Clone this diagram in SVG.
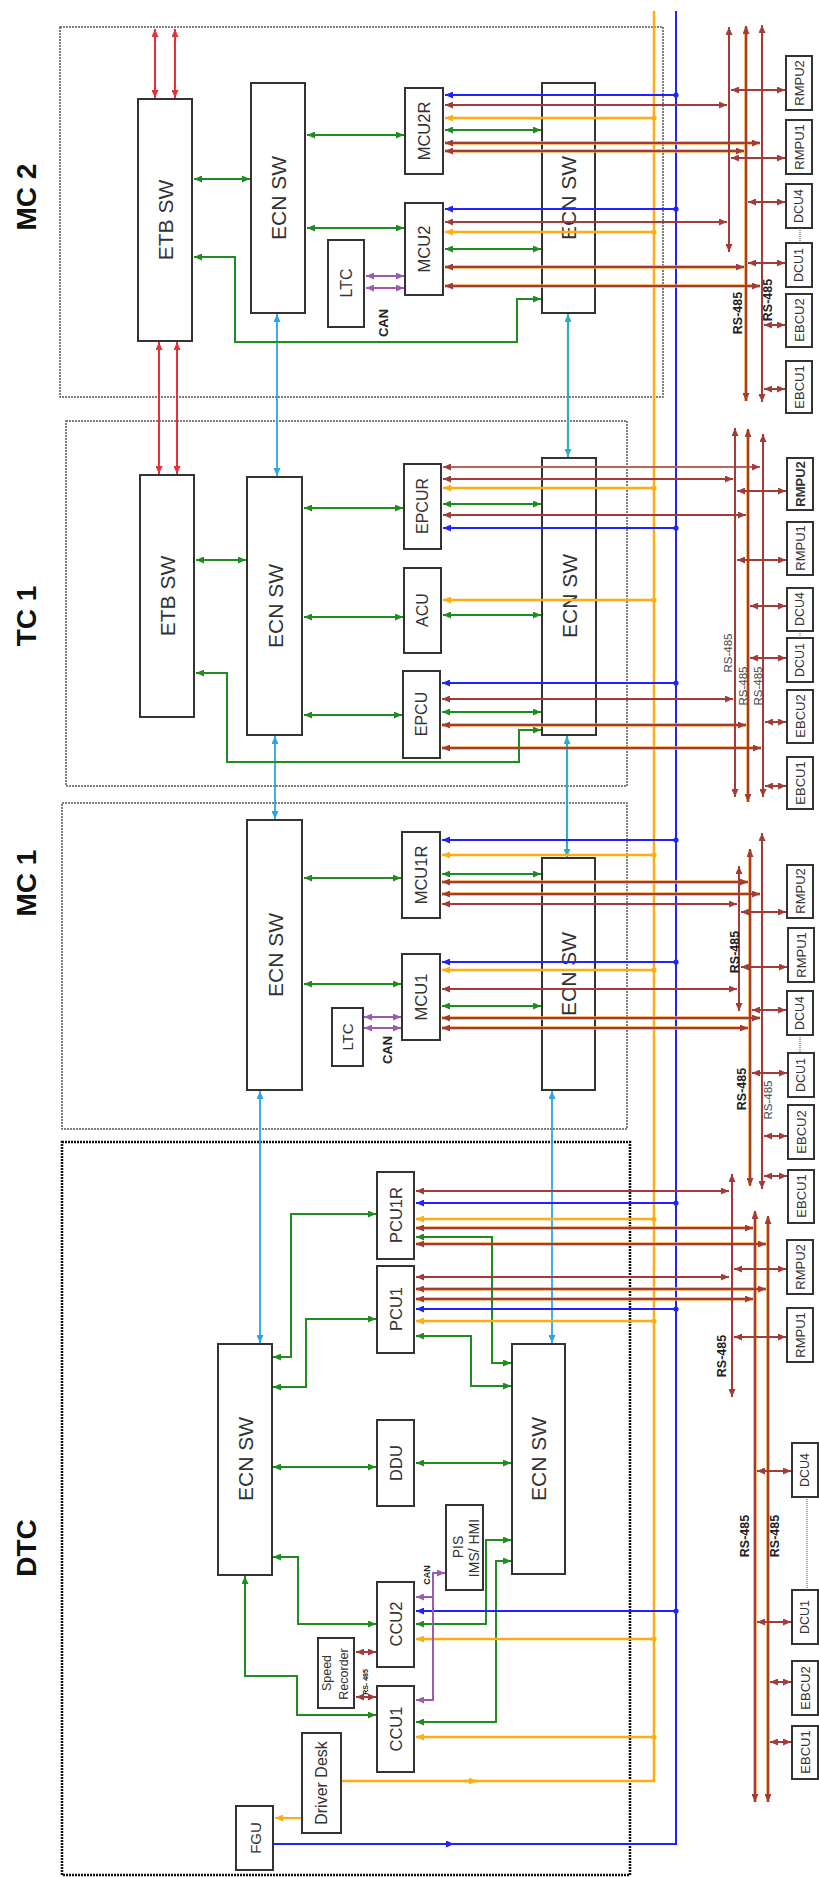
<svg xmlns="http://www.w3.org/2000/svg" width="819" height="1877" viewBox="0 0 819 1877">
<style>
.bg{fill:#fff}
.area{fill:none;stroke:#555;stroke-width:1.5;stroke-dasharray:2 1}
.areab{fill:none;stroke:#111;stroke-width:2.5;stroke-dasharray:2 1}
.bx{fill:#fff;stroke:#333;stroke-width:2}
.bxn{fill:none;stroke:#333;stroke-width:2}
.t{font-family:"Liberation Sans",Arial,sans-serif;fill:#333;text-anchor:middle;dominant-baseline:central}
.title{font-family:"Liberation Sans",Arial,sans-serif;font-weight:bold;fill:#111;text-anchor:middle;dominant-baseline:central;font-size:28px}
.lb{font-family:"Liberation Sans",Arial,sans-serif;font-weight:bold;fill:#222;text-anchor:middle;dominant-baseline:central}
.lr{font-family:"Liberation Sans",Arial,sans-serif;fill:#444;text-anchor:middle;dominant-baseline:central}
.br{fill:none;stroke:#a33b38;stroke-width:2;marker-start:url(#aBr);marker-end:url(#aBr)}
.brl{fill:none;stroke:#b8645f;stroke-width:2;marker-start:url(#aBr);marker-end:url(#aBr)}
.obu{fill:none;stroke:#f0aa48;stroke-width:3.6}
.g{fill:none;stroke:#1e8c1e;stroke-width:2;marker-start:url(#aG);marker-end:url(#aG)}
.bl{fill:none;stroke:#2222ff;stroke-width:2;marker-start:url(#aBl);marker-end:url(#dBl)}
.y{fill:none;stroke:#ffad10;stroke-width:2.5;marker-start:url(#aY);marker-end:url(#dY)}
.p{fill:none;stroke:#9a5bb0;stroke-width:2;marker-start:url(#aP);marker-end:url(#aP)}
.c{fill:none;stroke:#2aa7e0;stroke-width:1.8;marker-start:url(#aC);marker-end:url(#aC)}
.ct{fill:none;stroke:#2eaec4;stroke-width:2.2;marker-start:url(#aCt);marker-end:url(#aCt)}
.r{fill:none;stroke:#e8303a;stroke-width:2;marker-start:url(#aR);marker-end:url(#aR)}
.dot{fill:none;stroke:#444;stroke-width:1;stroke-dasharray:1 1}
</style>
<defs>
<marker id="aBr" viewBox="0 0 8 7" refX="8" refY="3.5" markerWidth="8" markerHeight="7" markerUnits="userSpaceOnUse" orient="auto-start-reverse"><path d="M0,0L8,3.5L0,7z" fill="#a33b38"/></marker>
<marker id="aG" viewBox="0 0 8 7" refX="8" refY="3.5" markerWidth="8" markerHeight="7" markerUnits="userSpaceOnUse" orient="auto-start-reverse"><path d="M0,0L8,3.5L0,7z" fill="#1e8c1e"/></marker>
<marker id="aBl" viewBox="0 0 8 7" refX="8" refY="3.5" markerWidth="8" markerHeight="7" markerUnits="userSpaceOnUse" orient="auto-start-reverse"><path d="M0,0L8,3.5L0,7z" fill="#2222ff"/></marker>
<marker id="aY" viewBox="0 0 8 7" refX="8" refY="3.5" markerWidth="8" markerHeight="7" markerUnits="userSpaceOnUse" orient="auto-start-reverse"><path d="M0,0L8,3.5L0,7z" fill="#ffad10"/></marker>
<marker id="aP" viewBox="0 0 8 7" refX="8" refY="3.5" markerWidth="8" markerHeight="7" markerUnits="userSpaceOnUse" orient="auto-start-reverse"><path d="M0,0L8,3.5L0,7z" fill="#9a5bb0"/></marker>
<marker id="aC" viewBox="0 0 8 7" refX="8" refY="3.5" markerWidth="8" markerHeight="7" markerUnits="userSpaceOnUse" orient="auto-start-reverse"><path d="M0,0L8,3.5L0,7z" fill="#2aa7e0"/></marker>
<marker id="aCt" viewBox="0 0 8 7" refX="8" refY="3.5" markerWidth="8" markerHeight="7" markerUnits="userSpaceOnUse" orient="auto-start-reverse"><path d="M0,0L8,3.5L0,7z" fill="#2eaec4"/></marker>
<marker id="aR" viewBox="0 0 8 7" refX="8" refY="3.5" markerWidth="8" markerHeight="7" markerUnits="userSpaceOnUse" orient="auto-start-reverse"><path d="M0,0L8,3.5L0,7z" fill="#e8303a"/></marker>
<marker id="dBl" viewBox="0 0 6 6" refX="3" refY="3" markerWidth="6" markerHeight="6" markerUnits="userSpaceOnUse"><circle cx="3" cy="3" r="2.6" fill="#2222ff"/></marker>
<marker id="dY" viewBox="0 0 6 6" refX="3" refY="3" markerWidth="6" markerHeight="6" markerUnits="userSpaceOnUse"><circle cx="3" cy="3" r="2.6" fill="#ffad10"/></marker>
</defs>
<rect class="bg" x="0" y="0" width="819" height="1877"/>

<g id="areas">
<rect class="area" x="60" y="27" width="603" height="370"/>
<rect class="area" x="66" y="421" width="561" height="365"/>
<rect class="area" x="62" y="803" width="565" height="326"/>
<rect class="areab" x="62" y="1142" width="568" height="733"/>
<text class="title" transform="translate(26,197) rotate(-90)">MC 2</text>
<text class="title" transform="translate(26,616) rotate(-90)">TC 1</text>
<text class="title" transform="translate(26,883) rotate(-90)">MC 1</text>
<text class="title" transform="translate(26,1548) rotate(-90)">DTC</text>
</g>

<!-- MC2 nodes -->
<g id="mc2-etb"><rect class="bx" x="138" y="99" width="54" height="242"/><text class="t" font-size="21" transform="translate(165,220) rotate(-90)">ETB SW</text></g>
<g id="mc2-ecn1"><rect class="bx" x="251" y="83" width="54" height="230"/><text class="t" font-size="21" transform="translate(278,198) rotate(-90)">ECN SW</text></g>
<g id="mc2-mcu2r"><rect class="bx" x="405" y="88" width="38" height="86"/><text class="t" font-size="16.5" transform="translate(424,131) rotate(-90)">MCU2R</text></g>
<g id="mc2-mcu2"><rect class="bx" x="405" y="203" width="38" height="92"/><text class="t" font-size="16.5" transform="translate(424,249) rotate(-90)">MCU2</text></g>
<g id="mc2-ltc"><rect class="bx" x="328" y="240" width="36" height="87"/><text class="t" font-size="16" transform="translate(346,283) rotate(-90)">LTC</text></g>
<g id="mc2-ecn2"><rect class="bxn" x="542" y="83" width="53" height="230"/><text class="t" font-size="21" transform="translate(568,198) rotate(-90)">ECN SW</text></g>
<g id="mc2-rmpu2"><rect class="bx" x="786" y="56" width="26" height="54"/><text class="t" font-size="13" transform="translate(799,83) rotate(-90)">RMPU2</text></g>
<g id="mc2-rmpu1"><rect class="bx" x="786" y="120" width="26" height="54"/><text class="t" font-size="13" transform="translate(799,147) rotate(-90)">RMPU1</text></g>
<g id="mc2-dcu4"><rect class="bx" x="786" y="184" width="26" height="44"/><text class="t" font-size="12.5" transform="translate(799,206) rotate(-90)">DCU4</text></g>
<g id="mc2-dcu1"><rect class="bx" x="786" y="243" width="26" height="44"/><text class="t" font-size="12.5" transform="translate(799,265) rotate(-90)">DCU1</text></g>
<g id="mc2-ebcu2"><rect class="bx" x="786" y="294" width="26" height="53"/><text class="t" font-size="13" transform="translate(799,320) rotate(-90)">EBCU2</text></g>
<g id="mc2-ebcu1"><rect class="bx" x="786" y="361" width="26" height="52"/><text class="t" font-size="13" transform="translate(799,387) rotate(-90)">EBCU1</text></g>

<!-- TC1 nodes -->
<g id="tc1-etb"><rect class="bx" x="140" y="475" width="54" height="242"/><text class="t" font-size="21" transform="translate(167,596) rotate(-90)">ETB SW</text></g>
<g id="tc1-ecn1"><rect class="bx" x="247" y="477" width="55" height="258"/><text class="t" font-size="21" transform="translate(275,606) rotate(-90)">ECN SW</text></g>
<g id="tc1-epcur"><rect class="bx" x="404" y="464" width="37" height="85"/><text class="t" font-size="16" transform="translate(422,506) rotate(-90)">EPCUR</text></g>
<g id="tc1-acu"><rect class="bx" x="404" y="568" width="37" height="85"/><text class="t" font-size="16" transform="translate(422,610) rotate(-90)">ACU</text></g>
<g id="tc1-epcu"><rect class="bx" x="403" y="671" width="37" height="87"/><text class="t" font-size="16" transform="translate(421,714) rotate(-90)">EPCU</text></g>
<g id="tc1-ecn2"><rect class="bxn" x="542" y="458" width="54" height="277"/><text class="t" font-size="21" transform="translate(569,596) rotate(-90)">ECN SW</text></g>
<g id="tc1-rmpu2"><rect class="bx" x="787" y="458" width="26" height="52"/><text class="t" font-size="13" font-weight="bold" fill="#111" transform="translate(800,484) rotate(-90)">RMPU2</text></g>
<g id="tc1-rmpu1"><rect class="bx" x="787" y="522" width="26" height="53"/><text class="t" font-size="13" transform="translate(800,548) rotate(-90)">RMPU1</text></g>
<g id="tc1-dcu4"><rect class="bx" x="787" y="588" width="26" height="43"/><text class="t" font-size="12.5" transform="translate(800,609) rotate(-90)">DCU4</text></g>
<g id="tc1-dcu1"><rect class="bx" x="787" y="638" width="26" height="44"/><text class="t" font-size="12.5" transform="translate(800,660) rotate(-90)">DCU1</text></g>
<g id="tc1-ebcu2"><rect class="bx" x="787" y="690" width="26" height="53"/><text class="t" font-size="13" transform="translate(800,716) rotate(-90)">EBCU2</text></g>
<g id="tc1-ebcu1"><rect class="bx" x="787" y="757" width="26" height="52"/><text class="t" font-size="13" transform="translate(800,783) rotate(-90)">EBCU1</text></g>

<!-- MC1 nodes -->
<g id="mc1-ecn1"><rect class="bx" x="247" y="820" width="55" height="270"/><text class="t" font-size="21" transform="translate(275,955) rotate(-90)">ECN SW</text></g>
<g id="mc1-mcu1r"><rect class="bx" x="402" y="832" width="38" height="86"/><text class="t" font-size="16.5" transform="translate(421,875) rotate(-90)">MCU1R</text></g>
<g id="mc1-mcu1"><rect class="bx" x="402" y="954" width="38" height="86"/><text class="t" font-size="16.5" transform="translate(421,997) rotate(-90)">MCU1</text></g>
<g id="mc1-ltc"><rect class="bx" x="332" y="1008" width="31" height="58"/><text class="t" font-size="15" transform="translate(347,1037) rotate(-90)">LTC</text></g>
<g id="mc1-ecn2"><rect class="bxn" x="542" y="858" width="53" height="232"/><text class="t" font-size="21" transform="translate(568,974) rotate(-90)">ECN SW</text></g>
<g id="mc1-rmpu2"><rect class="bx" x="787" y="865" width="26" height="53"/><text class="t" font-size="13" transform="translate(800,891) rotate(-90)">RMPU2</text></g>
<g id="mc1-rmpu1"><rect class="bx" x="788" y="928" width="26" height="54"/><text class="t" font-size="13" transform="translate(801,955) rotate(-90)">RMPU1</text></g>
<g id="mc1-dcu4"><rect class="bx" x="787" y="991" width="26" height="44"/><text class="t" font-size="12.5" transform="translate(800,1013) rotate(-90)">DCU4</text></g>
<g id="mc1-dcu1"><rect class="bx" x="788" y="1053" width="26" height="44"/><text class="t" font-size="12.5" transform="translate(801,1075) rotate(-90)">DCU1</text></g>
<g id="mc1-ebcu2"><rect class="bx" x="788" y="1105" width="26" height="54"/><text class="t" font-size="13" transform="translate(801,1132) rotate(-90)">EBCU2</text></g>
<g id="mc1-ebcu1"><rect class="bx" x="788" y="1170" width="26" height="53"/><text class="t" font-size="13" transform="translate(801,1196) rotate(-90)">EBCU1</text></g>

<!-- DTC nodes -->
<g id="dtc-ecn1"><rect class="bx" x="218" y="1344" width="54" height="231"/><text class="t" font-size="21" transform="translate(245,1459) rotate(-90)">ECN SW</text></g>
<g id="dtc-ecn2"><rect class="bx" x="512" y="1344" width="53" height="230"/><text class="t" font-size="21" transform="translate(538,1459) rotate(-90)">ECN SW</text></g>
<g id="dtc-pcu1r"><rect class="bx" x="377" y="1172" width="37" height="87"/><text class="t" font-size="16.5" transform="translate(396,1215) rotate(-90)">PCU1R</text></g>
<g id="dtc-pcu1"><rect class="bx" x="377" y="1266" width="37" height="87"/><text class="t" font-size="16.5" transform="translate(396,1309) rotate(-90)">PCU1</text></g>
<g id="dtc-ddu"><rect class="bx" x="377" y="1420" width="37" height="86"/><text class="t" font-size="16.5" transform="translate(396,1463) rotate(-90)">DDU</text></g>
<g id="dtc-pis"><rect class="bx" x="446" y="1505" width="37" height="85"/><text class="t" font-size="14" transform="translate(458,1547) rotate(-90)">PIS</text><text class="t" font-size="14" transform="translate(474,1548) rotate(-90)">IMS/ HMI</text></g>
<g id="dtc-ccu2"><rect class="bx" x="377" y="1582" width="37" height="85"/><text class="t" font-size="16.5" transform="translate(396,1624) rotate(-90)">CCU2</text></g>
<g id="dtc-ccu1"><rect class="bx" x="377" y="1686" width="37" height="86"/><text class="t" font-size="16.5" transform="translate(396,1729) rotate(-90)">CCU1</text></g>
<g id="dtc-speed"><rect class="bx" x="318" y="1638" width="36" height="70"/><text class="t" font-size="12.5" transform="translate(327,1673) rotate(-90)">Speed</text><text class="t" font-size="12.5" transform="translate(344,1674) rotate(-90)">Recorder</text></g>
<g id="dtc-desk"><rect class="bx" x="302" y="1733" width="39" height="100"/><text class="t" font-size="16" transform="translate(321,1783) rotate(-90)">Driver Desk</text></g>
<g id="dtc-fgu"><rect class="bx" x="236" y="1806" width="37" height="64"/><text class="t" font-size="15" transform="translate(255,1838) rotate(-90)">FGU</text></g>
<g id="dtc-rmpu2"><rect class="bx" x="787" y="1240" width="26" height="54"/><text class="t" font-size="13" transform="translate(800,1267) rotate(-90)">RMPU2</text></g>
<g id="dtc-rmpu1"><rect class="bx" x="787" y="1308" width="26" height="54"/><text class="t" font-size="13" transform="translate(800,1335) rotate(-90)">RMPU1</text></g>
<g id="dtc-dcu4"><rect class="bx" x="792" y="1443" width="26" height="54"/><text class="t" font-size="12.5" transform="translate(805,1470) rotate(-90)">DCU4</text></g>
<g id="dtc-dcu1"><rect class="bx" x="792" y="1590" width="26" height="54"/><text class="t" font-size="12.5" transform="translate(805,1617) rotate(-90)">DCU1</text></g>
<g id="dtc-ebcu2"><rect class="bx" x="792" y="1661" width="26" height="54"/><text class="t" font-size="13" transform="translate(805,1688) rotate(-90)">EBCU2</text></g>
<g id="dtc-ebcu1"><rect class="bx" x="792" y="1726" width="26" height="53"/><text class="t" font-size="13" transform="translate(805,1752) rotate(-90)">EBCU1</text></g>

<g id="connectors">
<path d="M342,1781 H654 V11" fill="none" stroke="#ffad10" stroke-width="2.5"/>
<path d="M274,1844 H676 V11" fill="none" stroke="#2222ff" stroke-width="2"/>
<path d="M464,1781 H477" stroke="#ffad10" stroke-width="2.5" marker-end="url(#aY)"/>
<path d="M440,1844 H454" stroke="#2222ff" stroke-width="2" marker-end="url(#aBl)"/>
<path d="M301,1818 H275" stroke="#ffad10" stroke-width="2" marker-end="url(#aY)"/>

<g class="obu">
<path d="M746,27 V401"/><path d="M445,143 H760"/><path d="M445,151 H744"/><path d="M445,267 H744"/><path d="M445,286 H760"/>
<path d="M748,430 V802"/><path d="M442,725 H746"/><path d="M442,748 H761"/>
<path d="M750,850 V1185"/><path d="M442,882 H748"/><path d="M442,894 H760"/><path d="M442,1018 H760"/><path d="M442,1028 H748"/>
<path d="M755,1212 V1802"/><path d="M768,1217 V1802"/><path d="M416,1228 H753"/><path d="M416,1244 H766"/><path d="M416,1289 H766"/><path d="M416,1299 H753"/>
</g>

<path class="r" d="M155,29 V98"/><path class="r" d="M175,29 V98"/>
<path class="r" d="M159,342 V474"/><path class="r" d="M177,342 V474"/>

<path class="c" d="M277,314 V476"/><path class="ct" d="M568,314 V457"/>
<path class="c" d="M275,736 V819"/><path class="ct" d="M567,736 V857"/>
<path class="c" d="M260,1091 V1343"/><path class="c" d="M552,1091 V1343"/>

<path class="g" d="M194,179 H250"/><path class="g" d="M307,135 H404"/><path class="g" d="M307,228 H404"/>
<path class="g" d="M194,257 H235 V342 H517 V299 H541"/>
<path class="p" d="M366,276 H404"/><path class="p" d="M366,288 H404"/>
<path class="bl" d="M445,95 H676"/><path class="br" d="M445,105 H727"/><path class="y" d="M445,118 H654"/><path class="g" d="M445,130 H541"/><path class="br" d="M445,143 H760"/><path class="br" d="M445,151 H744"/>
<path class="bl" d="M445,209 H676"/><path class="br" d="M445,222 H727"/><path class="y" d="M445,232 H654"/><path class="g" d="M445,249 H541"/><path class="br" d="M445,267 H744"/><path class="br" d="M445,286 H760"/>
<path class="br" d="M729,27 V252"/><path class="br" d="M746,26 V401"/><path class="br" d="M762,25 V402"/>
<path class="br" d="M731,90 H785"/><path class="br" d="M731,158 H785"/><path class="br" d="M748,202 H785"/><path class="br" d="M748,263 H785"/><path class="br" d="M764,325 H785"/><path class="br" d="M764,389 H785"/>
<path class="dot" d="M800,228 V243"/>

<path class="g" d="M196,560 H246"/><path class="g" d="M304,508 H403"/><path class="g" d="M304,617 H403"/><path class="g" d="M304,715 H402"/>
<path class="g" d="M196,673 H227 V762 H519 V730 H541"/>
<path class="brl" d="M443,467 H760"/><path class="br" d="M443,479 H733"/><path class="y" d="M443,488 H654"/><path class="g" d="M443,504 H541"/><path class="br" d="M443,515 H746"/><path class="bl" d="M443,528 H676"/>
<path class="y" d="M443,600 H654"/><path class="g" d="M443,615 H541"/>
<path class="bl" d="M442,683 H676"/><path class="br" d="M442,699 H733"/><path class="g" d="M442,712 H541"/><path class="br" d="M442,725 H746"/><path class="br" d="M442,748 H761"/>
<path class="br" d="M735,428 V797"/><path class="br" d="M748,429 V802"/><path class="br" d="M763,434 V797"/>
<path class="br" d="M737,491 H786"/><path class="br" d="M737,560 H786"/><path class="br" d="M750,606 H786"/><path class="br" d="M750,658 H786"/><path class="br" d="M765,722 H786"/><path class="br" d="M765,786 H786"/>
<path class="dot" d="M800,631 V638"/>

<path class="g" d="M304,878 H401"/><path class="g" d="M304,984 H401"/>
<path class="p" d="M364,1017 H401"/><path class="p" d="M364,1028 H401"/>
<path class="bl" d="M442,840 H676"/><path class="y" d="M442,855 H654"/><path class="g" d="M442,874 H541"/><path class="br" d="M442,882 H748"/><path class="br" d="M442,894 H760"/><path class="br" d="M442,904 H737"/>
<path class="bl" d="M442,962 H676"/><path class="y" d="M442,970 H654"/><path class="br" d="M442,989 H737"/><path class="g" d="M442,1006 H541"/><path class="br" d="M442,1018 H760"/><path class="br" d="M442,1028 H748"/>
<path class="br" d="M739,866 V1011"/><path class="br" d="M750,849 V1186"/><path class="br" d="M762,833 V1189"/>
<path class="br" d="M741,912 H786"/><path class="br" d="M741,967 H787"/><path class="br" d="M752,1010 H786"/><path class="br" d="M752,1073 H787"/><path class="br" d="M764,1136 H787"/><path class="br" d="M764,1176 H787"/>
<path class="dot" d="M800,1035 V1053"/>

<path class="g" d="M376,1214 H291 V1357 H273"/><path class="g" d="M376,1319 H306 V1387 H273"/><path class="g" d="M273,1467 H376"/>
<path class="g" d="M376,1624 H298 V1557 H273"/><path class="g" d="M376,1715 H297 V1676 H245 V1576"/>
<path class="g" d="M416,1237 H492 V1363 H511"/><path class="g" d="M416,1336 H471 V1386 H511"/><path class="g" d="M416,1463 H511"/>
<path class="g" d="M416,1624 H486 V1540 H511"/><path class="g" d="M416,1722 H496 V1561 H511"/>
<path class="br" d="M416,1191 H729"/><path class="bl" d="M416,1203 H676"/><path class="y" d="M416,1219 H654"/><path class="br" d="M416,1228 H753"/><path class="br" d="M416,1244 H766"/>
<path class="br" d="M416,1277 H729"/><path class="br" d="M416,1289 H766"/><path class="br" d="M416,1299 H753"/><path class="bl" d="M416,1309 H676"/><path class="y" d="M416,1321 H654"/>
<path class="bl" d="M416,1611 H676"/><path class="y" d="M416,1639 H654"/><path class="y" d="M416,1737 H654"/>
<path class="p" d="M445,1573 H433 V1700 H416"/><path d="M433,1597 H416" fill="none" stroke="#9a5bb0" stroke-width="2" marker-end="url(#aP)"/>
<path class="br" d="M356,1652 H376"/><path class="br" d="M356,1697 H376"/>
<path class="br" d="M732,1174 V1397"/><path class="br" d="M755,1211 V1802"/><path class="br" d="M768,1216 V1802"/>
<path class="br" d="M734,1269 H786"/><path class="br" d="M734,1337 H786"/><path class="br" d="M757,1471 H791"/><path class="br" d="M757,1622 H791"/><path class="br" d="M770,1682 H791"/><path class="br" d="M770,1742 H791"/>
<path class="dot" d="M807,1497 V1590"/>
</g>

<g id="labels">
<text class="lb" font-size="13" transform="translate(383,323) rotate(-90)">CAN</text>
<text class="lb" font-size="13" transform="translate(387,1050) rotate(-90)">CAN</text>
<text class="lb" font-size="9" transform="translate(427,1575) rotate(-90)">CAN</text>
<text class="lb" font-size="7" transform="translate(365,1682) rotate(-90)">RS- 485</text>
<text class="lb" font-size="12.5" transform="translate(738,313) rotate(-90)">RS-485</text>
<text class="lb" font-size="12.5" transform="translate(768,300) rotate(-90)">RS-485</text>
<text class="lr" font-size="11.5" transform="translate(728,653) rotate(-90)">RS-485</text>
<text class="lr" font-size="11.5" transform="translate(743,686) rotate(-90)">RS-485</text>
<text class="lr" font-size="11.5" transform="translate(758,686) rotate(-90)">RS-485</text>
<text class="lb" font-size="12.5" transform="translate(735,952) rotate(-90)">RS-485</text>
<text class="lb" font-size="12.5" transform="translate(742,1089) rotate(-90)">RS-485</text>
<text class="lr" font-size="11.5" transform="translate(768,1100) rotate(-90)">RS-485</text>
<text class="lb" font-size="12.5" transform="translate(722,1356) rotate(-90)">RS-485</text>
<text class="lb" font-size="12.5" transform="translate(745,1536) rotate(-90)">RS-485</text>
<text class="lb" font-size="12.5" transform="translate(775,1536) rotate(-90)">RS-485</text>
</g>
</svg>
